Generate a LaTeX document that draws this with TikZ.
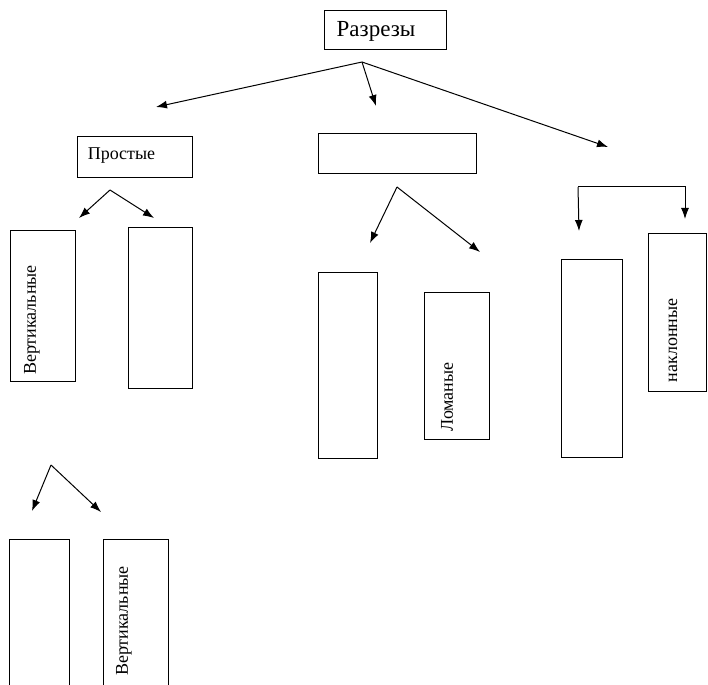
\documentclass[tikz,border=0pt]{standalone}
\usepackage{fontspec}
\setmainfont{Liberation Serif}
\usetikzlibrary{arrows.meta,fit}
\begin{document}
\begin{tikzpicture}[x=1pt,y=-1pt,
  box/.style={draw, line width=1pt, inner sep=0pt, outer sep=0pt},
  arr/.style={line width=1pt, -{Latex[length=11pt,width=8pt]}},
  lbl/.style={inner sep=0pt, font=\fontsize{18}{18}\selectfont},
  vlbl/.style={lbl, rotate=90}]
\useasboundingbox (0,0) rectangle (708,684);
\fill[white] (0,0) rectangle (708,684);
\clip (0,0) rectangle (708,684);
% boxes
\node[box, fit={(324,11) (446,50)}] (razr) {};
\node[box, fit={(77,137) (192,178)}] (prost) {};
\node[box, fit={(318,134) (476,174)}] (mid) {};
\node[box, fit={(10,231) (75,381)}] (vert1) {};
\node[box, fit={(128,228) (192,388)}] (b2) {};
\node[box, fit={(318,272) (377,458)}] (b3) {};
\node[box, fit={(424,292) (489,439)}] (lom) {};
\node[box, fit={(561,259) (622,457)}] (b5) {};
\node[box, fit={(648,234) (706,391)}] (nakl) {};
\node[box, fit={(9,539) (69,690)}] (b7) {};
\node[box, fit={(103,539) (168,690)}] (vert2) {};
% texts
\node[lbl, font=\fontsize{23}{23}\selectfont] (trazr) at (376,31) {Разрезы};
\node[lbl] (tprost) at (121.5,156) {Простые};
\node[vlbl] (tvert1) at (32,320) {Вертикальные};
\node[vlbl] (tlom) at (447,397) {Ломаные};
\node[vlbl] (tnakl) at (673,340.5) {наклонные};
\node[vlbl] (tvert2) at (124,621) {Вертикальные};
% arrow coordinates
\coordinate (o1) at (362,62);
\coordinate (t1a) at (156,107);
\coordinate (t1b) at (376,106);
\coordinate (t1c) at (608,147);
\coordinate (o2) at (110,190);
\coordinate (t2a) at (79,218);
\coordinate (t2b) at (154,218);
\coordinate (o3) at (397,187);
\coordinate (t3a) at (370,243);
\coordinate (t3b) at (480,252);
\coordinate (c4a) at (578,187);
\coordinate (c4b) at (685,187);
\coordinate (t4a) at (579,231);
\coordinate (t4b) at (685,219);
\coordinate (o5) at (51,465);
\coordinate (t5a) at (32,511);
\coordinate (t5b) at (101,512);
% arrows
\draw[arr] (o1) -- (t1a);
\draw[arr] (o1) -- (t1b);
\draw[arr] (o1) -- (t1c);
\draw[arr] (o2) -- (t2a);
\draw[arr] (o2) -- (t2b);
\draw[arr] (o3) -- (t3a);
\draw[arr] (o3) -- (t3b);
\draw[arr] (c4a) -- (c4b) -- (t4b);
\draw[arr] (c4a) -- (t4a);
\draw[arr] (o5) -- (t5a);
\draw[arr] (o5) -- (t5b);
\end{tikzpicture}
\end{document}
